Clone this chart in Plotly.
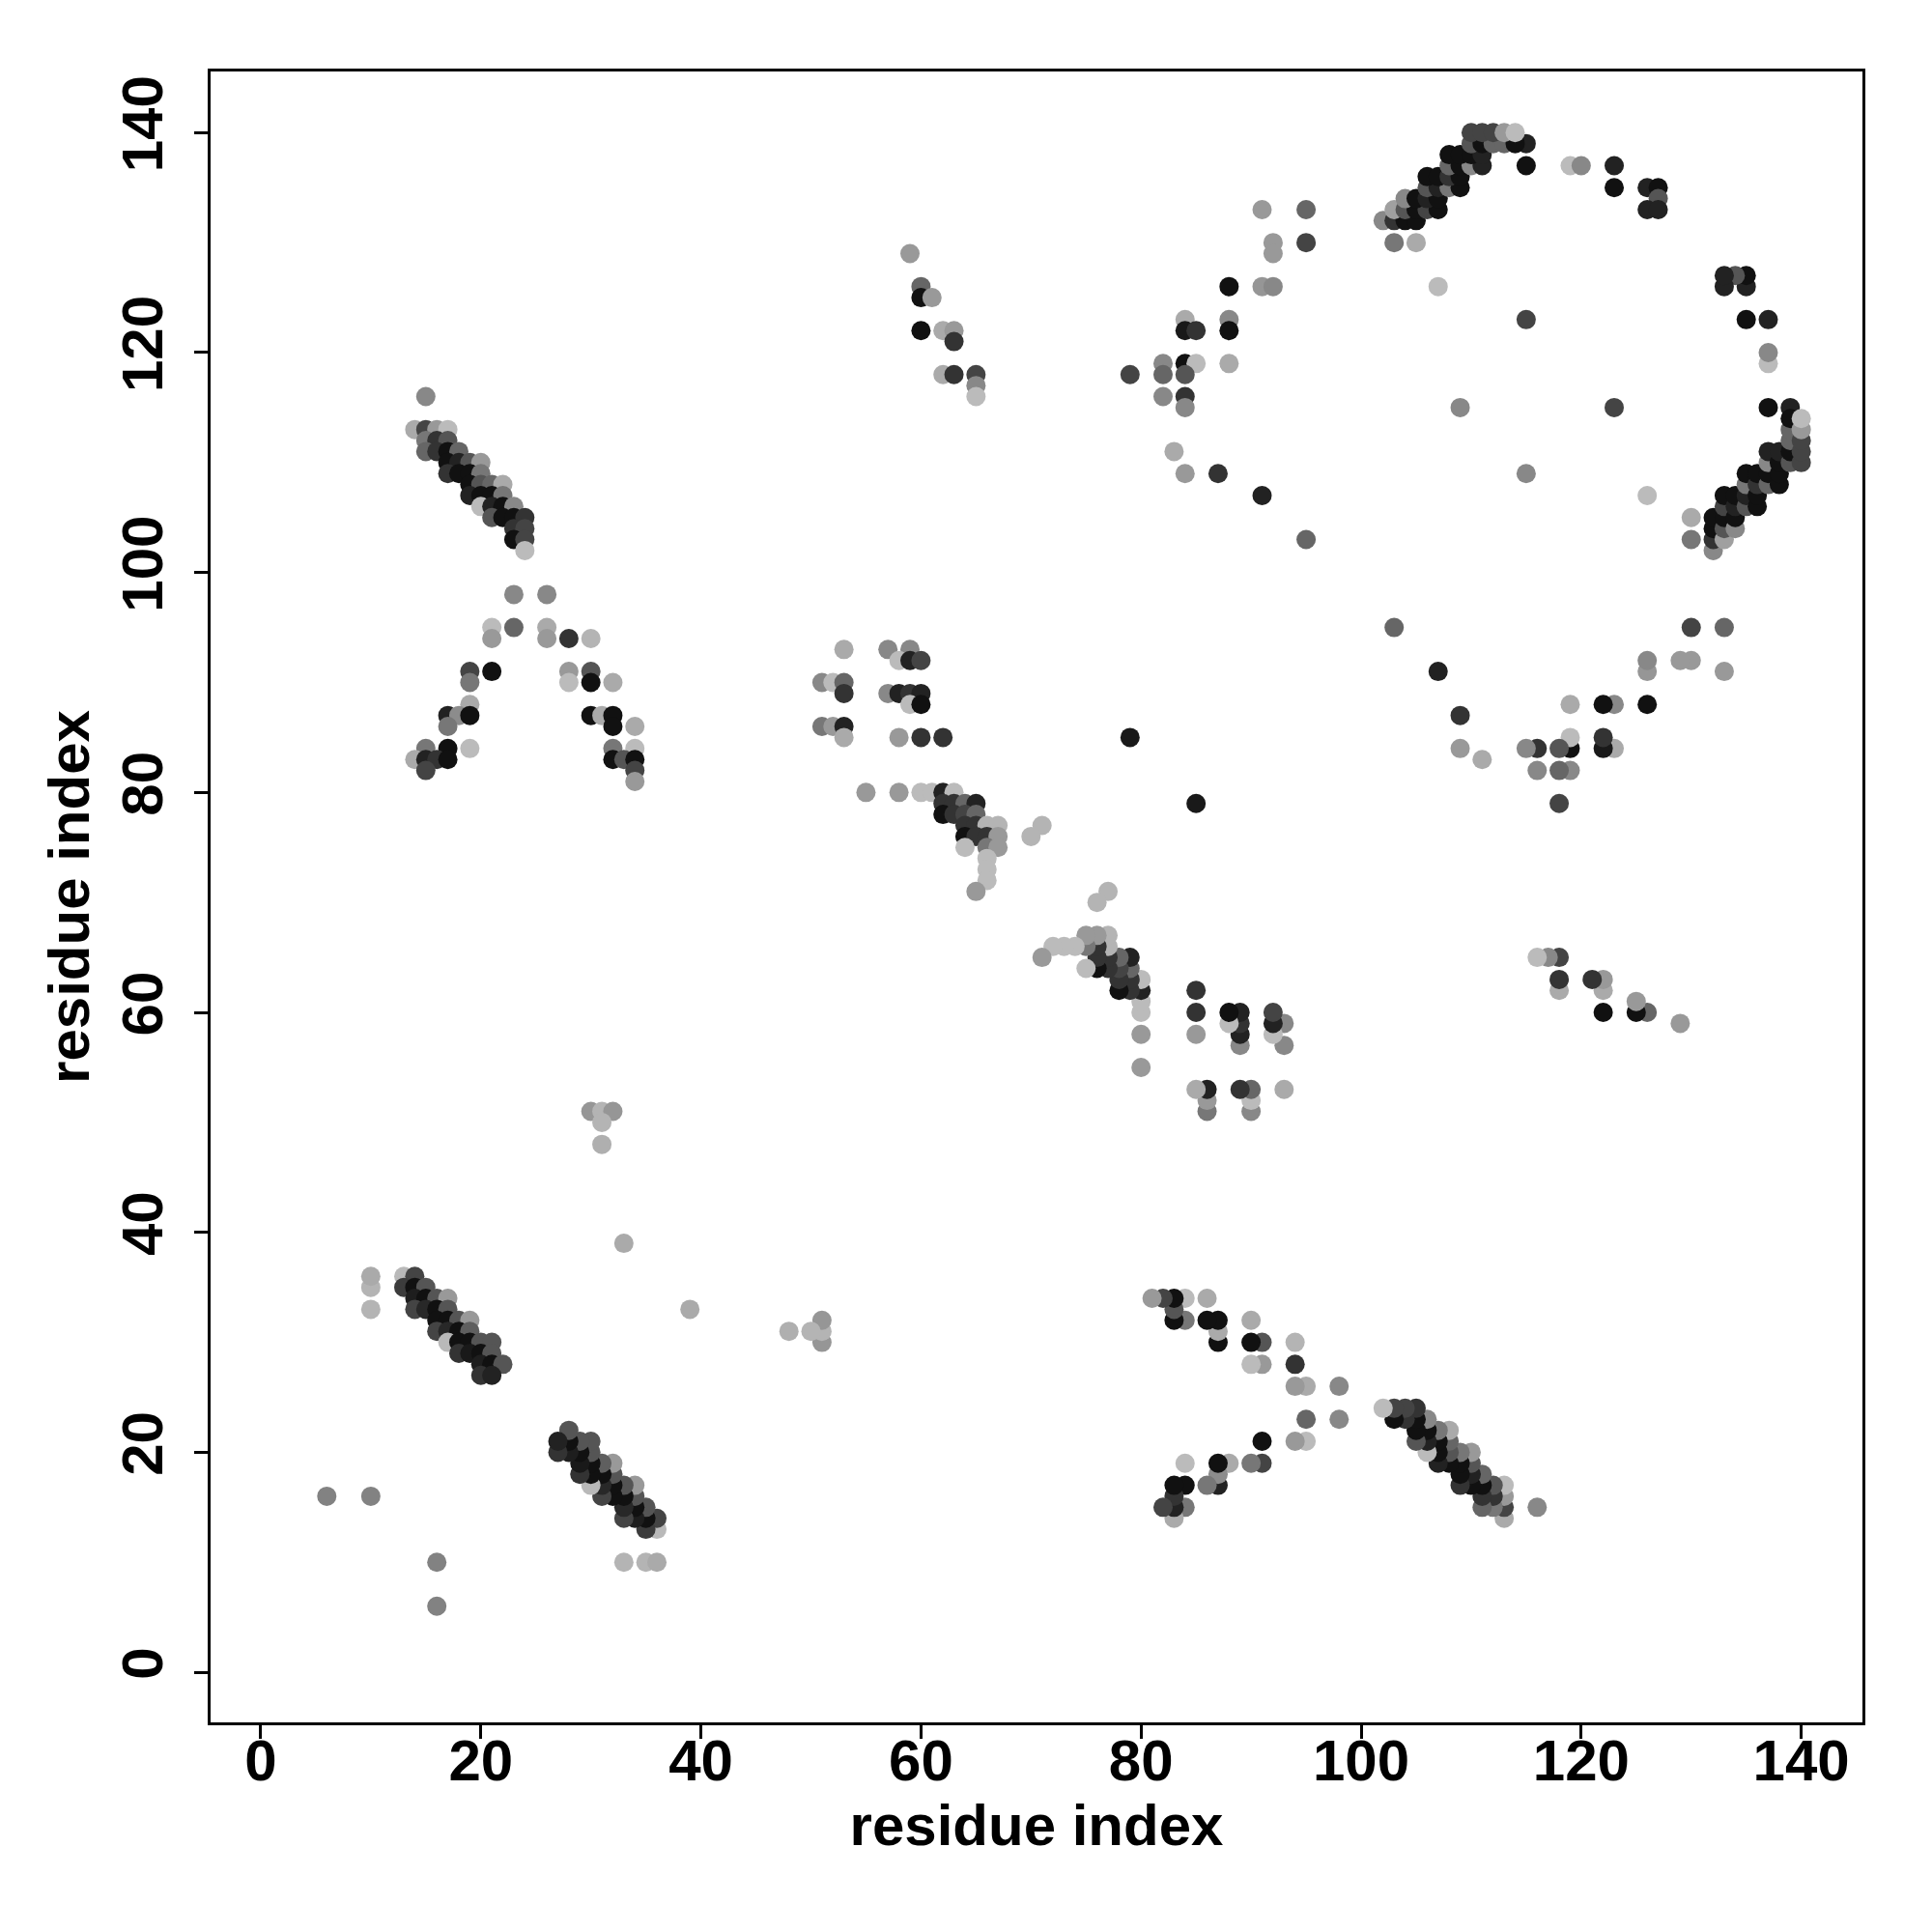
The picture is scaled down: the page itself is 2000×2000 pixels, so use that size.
import plotly.graph_objects as go

# Contact list (i < j); each contact is drawn at (i, j) and (j, i).
res_i = [
    6, 10,
    10, 10, 10, 33,
    30, 31, 32, 31, 31,
    # strand pair 14-22 / 27-36
    13, 14, 13, 14, 15,
    14, 15, 16, 17,
    14, 15, 16, 17,
    16, 17, 18, 19,
    16, 17, 18, 19,
    17, 18, 19, 20, 21,
    18, 19, 20, 21,
    20, 21, 22,
    20, 21,
    # strand pair 14-24 / 102-116
    15,
    14, 15, 16, 17,
    15, 16, 17,
    15, 16, 17, 18,
    17, 18, 19, 20,
    17, 18, 19, 20,
    19, 20, 21, 22,
    19, 20, 21, 22,
    20, 21, 22, 23,
    21, 22, 23, 24,
    23, 24,
    23, 24,
    24,
    # X shape 14-34 / 81-98
    23, 26,
    21, 23, 26,
    21, 26, 28, 30,
    19, 21, 28, 30,
    19, 28, 30, 32,
    19,
    17, 18, 19, 30, 31, 32,
    17, 32, 34,
    15, 17, 19, 32, 34,
    14, 15, 16, 17, 32, 33, 34,
    15, 34,
    34,
    # cluster 51-62 / 85-93
    53, 57, 59,
    58, 59, 60,
    51, 52, 53,
    53, 57, 58, 59, 60,
    59, 60,
    51, 52, 53,
    53, 58, 60, 62,
    # near diagonal 55-71 / 71-80
    55, 58, 60, 61, 62, 63,
    62, 63, 64, 65,
    62, 63, 64, 65,
    64, 65, 66, 67, 71,
    64, 65, 66, 67, 70,
    64, 66, 67,
    66, 66, 66,
    65,
    # cluster 59-65 / 116-129
    59, 60, 60, 61, 60, 62, 63, 63, 62, 63, 65, 65, 65,
    # upper right scattered
    91, 95, 92, 92, 95,
    88, 91, 92,
    84, 84, 85, 88, 88,
    82, 82, 84, 85, 84, 88, 79,
    82, 84, 84,
    83, 84, 87, 91, 95,
    79,
    109, 115, 107,
    115, 115, 119, 120, 123, 123,
    126, 127, 127, 126, 127,
    # strand pair 102-115 / 130-140
    102, 103, 104, 105,
    103, 104, 105, 106, 107,
    104, 105, 106, 107,
    106, 107, 108, 109,
    106, 107, 108, 109,
    108, 109, 110, 111,
    108, 109, 110, 111,
    110, 111, 112, 113, 114,
    110, 111, 112, 113, 114,
    103, 105,
]

res_j = [
    16, 16,
    33, 35, 36, 39,
    51, 51, 51, 50, 48,
    # strand pair 14-22 / 27-36
    36, 36, 35, 35, 35,
    34, 34, 34, 34,
    33, 33, 33, 33,
    32, 32, 32, 32,
    31, 31, 31, 31,
    30, 30, 30, 30, 30,
    29, 29, 29, 29,
    28, 28, 28,
    27, 27,
    # strand pair 14-24 / 102-116
    116,
    113, 113, 113, 113,
    112, 112, 112,
    111, 111, 111, 111,
    110, 110, 110, 110,
    109, 109, 109, 109,
    108, 108, 108, 108,
    107, 107, 107, 107,
    106, 106, 106, 106,
    105, 105, 105, 105,
    104, 104,
    103, 103,
    102,
    # X shape
    98, 98,
    95, 95, 95,
    94, 94, 94, 94,
    91, 91, 91, 91,
    90, 90, 90, 90,
    88,
    87, 87, 87, 87, 87, 87,
    86, 86, 86,
    84, 84, 84, 84, 84,
    83, 83, 83, 83, 83, 83, 83,
    82, 82,
    81,
    # cluster 51-62 / 85-93
    93, 93, 93,
    92, 92, 92,
    90, 90, 90,
    89, 89, 89, 89, 89,
    88, 88,
    86, 86, 86,
    85, 85, 85, 85,
    # near diagonal
    80, 80, 80, 80, 80, 80,
    79, 79, 79, 79,
    78, 78, 78, 78,
    77, 77, 77, 77, 77,
    76, 76, 76, 76, 76,
    75, 75, 75,
    74, 73, 72,
    71,
    # cluster 59-65 / 116-129
    129, 126, 125, 125, 122, 122, 122, 121, 118, 118, 118, 117, 116,
    # upper right scattered
    133, 133, 130, 129, 130,
    126, 126, 126,
    123, 122, 122, 123, 122,
    119, 118, 119, 119, 118, 119, 118,
    116, 116, 115,
    111, 109, 109, 107, 103,
    85,
    115, 123, 126,
    137, 139, 137, 137, 137, 135,
    135, 135, 134, 133, 133,
    # strand pair 102-115 / 130-140
    132, 132, 132, 132,
    133, 133, 133, 133, 133,
    134, 134, 134, 134,
    135, 135, 135, 135,
    136, 136, 136, 136,
    137, 137, 137, 137,
    138, 138, 138, 138,
    139, 139, 139, 139, 139,
    140, 140, 140, 140, 140,
    130, 130,
]

# grey level of each contact (0 = black, 255 = white)
shade = [
    130, 130,
    180, 180, 170, 170,
    150, 180, 150, 180, 175,
    185, 68, 60, 17, 85,
    30, 17, 85, 153,
    68, 40, 17, 85,
    17, 17, 85, 153,
    68, 40, 17, 95,
    185, 17, 17, 85, 85,
    51, 25, 17, 85,
    30, 17, 85,
    51, 34,
    136,
    170, 68, 153, 187,
    119, 51, 85,
    102, 51, 17, 102,
    17, 34, 85, 153,
    51, 17, 17, 119,
    17, 85, 102, 170,
    34, 17, 17, 119,
    187, 34, 17, 136,
    85, 17, 17, 51,
    51, 68,
    17, 68,
    187,
    136, 136,
    187, 102, 170,
    153, 153, 51, 180,
    68, 17, 153, 85,
    119, 187, 17, 170,
    170,
    34, 140, 17, 17, 170, 17,
    119, 17, 170,
    119, 17, 187, 119, 187,
    170, 34, 51, 17, 17, 85, 17,
    68, 68,
    153,
    170, 136, 136,
    187, 34, 68,
    136, 187, 102,
    51, 136, 34, 51, 34,
    187, 17,
    119, 153, 34,
    170, 153, 51, 51,
    153, 153, 187, 187, 34, 187,
    51, 51, 102, 34,
    17, 51, 68, 102,
    51, 51, 180, 180, 180,
    17, 51, 51, 153, 180,
    187, 119, 153,
    187, 187, 187,
    153,
    153, 102, 17, 153, 17, 170, 153, 51, 170, 51, 68, 136, 187,
    153, 102, 153, 153, 68,
    17, 150, 136,
    170, 25, 51, 136, 17,
    136, 102, 17, 187, 85, 170, 68,
    136, 51, 136,
    170, 153, 51, 34, 102,
    25,
    136, 68, 187,
    17, 34, 187, 136, 34, 17,
    34, 17, 85, 34, 34,
    136, 51, 17, 17,
    160, 85, 17, 68, 17,
    136, 17, 34, 17,
    85, 34, 119, 17,
    17, 17, 51, 17,
    102, 17, 136, 34,
    17, 17, 17, 34,
    85, 17, 102, 102, 17,
    68, 68, 68, 153, 187,
    119, 170,
]

tick_vals = [0, 20, 40, 60, 80, 100, 120, 140]
axis_title = "residue index"

xs = res_i + res_j
ys = res_j + res_i
cols = [f"rgb({g},{g},{g})" for g in shade] * 2

fig = go.Figure(
    go.Scatter(
        x=xs, y=ys, mode="markers",
        marker=dict(size=20, color=cols, line=dict(width=0)),
        showlegend=False, hoverinfo="skip",
    )
)

font = dict(family="Liberation Sans, Arial, sans-serif", size=60, color="black", weight="bold")
common = dict(
    range=[-4.56, 145.56], tickmode="array", tickvals=tick_vals,
    ticks="outside", ticklen=14, tickwidth=2.5, tickcolor="black",
    showline=True, linecolor="black", linewidth=2.5, mirror=True,
    showgrid=False, zeroline=False, tickfont=font,
)
fig.update_xaxes(**common, ticklabelstandoff=-29, title=dict(text=axis_title, font=font, standoff=14))
fig.update_yaxes(**common, tickangle=-90, ticklabelstandoff=9, title=dict(text=axis_title, font=font, standoff=3))
fig.update_layout(
    width=2000, height=2000, autosize=False,
    margin=dict(l=210, r=80, t=66, b=225, autoexpand=False),
    plot_bgcolor="white", paper_bgcolor="white",
)
fig.write_html("out.html")
